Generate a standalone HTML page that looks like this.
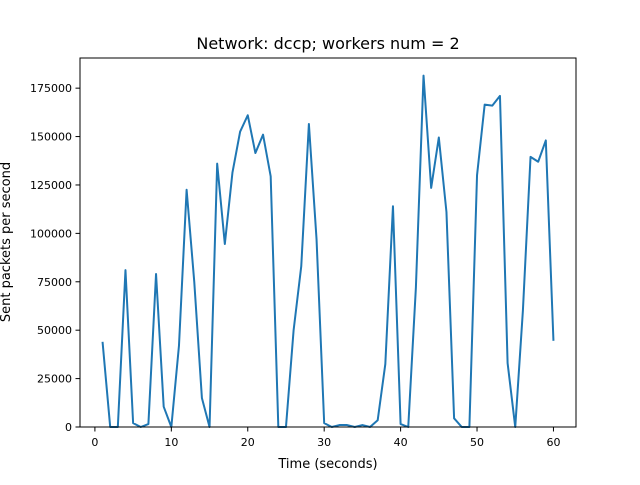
<!DOCTYPE html>
<html><head><meta charset="utf-8"><style>
body{margin:0;background:#fff;font-family:"Liberation Sans","DejaVu Sans",sans-serif}
text{font-family:"DejaVu Sans","Liberation Sans",sans-serif}
</style></head><body>
<svg id="chart" width="640" height="480" xmlns="http://www.w3.org/2000/svg">
<rect width="640" height="480" fill="#fff"/>
<text x="328" y="49" text-anchor="middle" font-size="16">Network: dccp; workers num = 2</text>
<g id="axes"></g>
<text x="328" y="468" text-anchor="middle" font-size="13">Time (seconds)</text>
<text transform="translate(10,242) rotate(-90)" text-anchor="middle" font-size="13">Sent packets per second</text>
</svg>
<script>
const times=[1,2,3,4,5,6,7,8,9,10,11,12,13,14,15,16,17,18,19,20,21,22,23,24,25,26,27,28,29,30,31,32,33,34,35,36,37,38,39,40,41,42,43,44,45,46,47,48,49,50,51,52,53,54,55,56,57,58,59,60];
const packets=[44000,0,0,81000,2000,0,1500,79000,10500,0,42000,122500,75000,15000,0,136000,94500,131500,152500,161000,141500,151000,129500,0,0,50000,83000,156500,97000,2000,0,1000,1000,0,1000,0,3500,32500,114000,1500,0,72000,181500,123500,149500,111000,4500,0,0,130000,166500,166000,171000,33000,0,60000,139500,137000,148000,44500];
const xTicks=[0,10,20,30,40,50,60];
const yTicks=[0,25000,50000,75000,100000,125000,150000,175000];
const L=80,R=576,T=58,B=427;
const xmin=-1.95,xmax=62.95,ymax=Math.max(...packets)*1.05;
const sx=v=>L+(v-xmin)/(xmax-xmin)*(R-L);
const sy=v=>B-v/ymax*(B-T);
const ns="http://www.w3.org/2000/svg";
const g=document.getElementById('axes');
function mk(t,a){const e=document.createElementNS(ns,t);for(const k in a)e.setAttribute(k,a[k]);g.appendChild(e);return e;}
const d=times.map((t,i)=>(i?'L':'M')+sx(t).toFixed(2)+','+sy(packets[i]).toFixed(2)).join('');
const line=mk('path',{d:d,fill:'none',stroke:'#1f77b4','stroke-width':2,'stroke-linejoin':'round'});


const frame=mk('rect',{x:L,y:T,width:R-L,height:B-T,fill:'none',stroke:'#000','stroke-width':1});


xTicks.forEach(v=>{const x=sx(v);
const tk=mk('line',{x1:x,x2:x,y1:B,y2:B+4.5,stroke:'#000','stroke-width':1});


const tx=mk('text',{x:x,y:B+19,'text-anchor':'middle','font-size':11});tx.textContent=v;

});
yTicks.forEach(v=>{const y=sy(v);
const tk=mk('line',{x1:L-4.5,x2:L,y1:y,y2:y,stroke:'#000','stroke-width':1});


const tx=mk('text',{x:L-8,y:y+4,'text-anchor':'end','font-size':11});tx.textContent=v;

});
</script>
</body></html>
